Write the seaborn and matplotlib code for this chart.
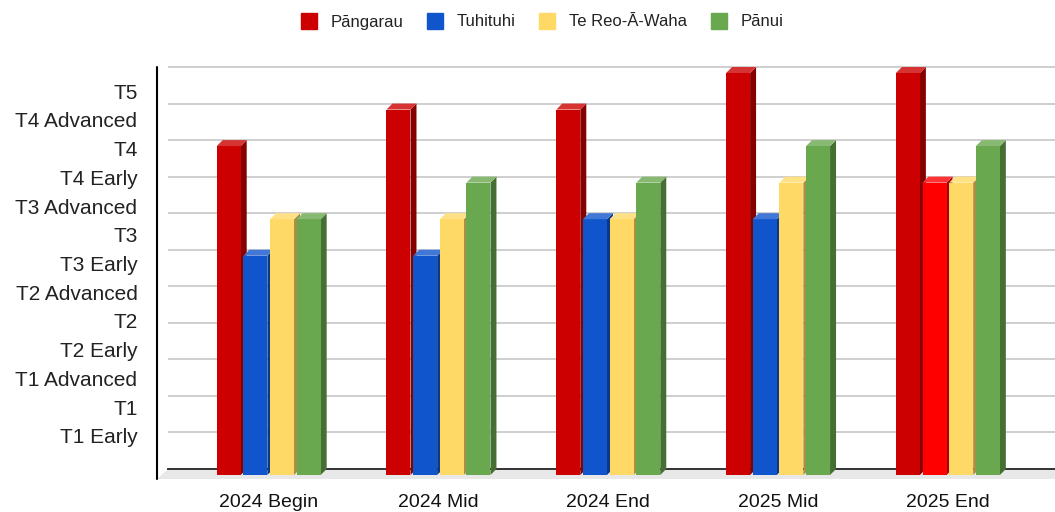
import numpy as np
import pandas as pd
import seaborn as sns
import matplotlib
matplotlib.use("Agg")
import matplotlib.pyplot as plt
from matplotlib.patches import Polygon
from matplotlib.lines import Line2D
from matplotlib.colors import to_rgb

# ---------------- data ----------------
categories = ["2024 Begin", "2024 Mid", "2024 End", "2025 Mid", "2025 End"]
series = ["Pāngarau", "Tuhituhi", "Te Reo-Ā-Waha", "Pānui"]
pangarau = [9, 10, 10, 11, 11]
tuhituhi = [6, 6, 7, 7, 8]
te_reo = [7, 7, 7, 8, 8]
panui = [7, 8, 8, 9, 9]
level_labels = ["T1 Early", "T1", "T1 Advanced", "T2 Early", "T2", "T2 Advanced",
                "T3 Early", "T3", "T3 Advanced", "T4 Early", "T4", "T4 Advanced", "T5"]
colors = ["#CC0000", "#1155CC", "#FFD966", "#6AA84F"]
highlight = ("2025 End", "Tuhituhi")
highlight_color = "#FF0000"

df = pd.DataFrame({
    "Period": categories * 4,
    "Series": np.repeat(series, len(categories)),
    "Level": pangarau + tuhituhi + te_reo + panui,
})

# ---------------- style ----------------
sns.set_style("white")
plt.rcParams["font.family"] = ["Liberation Sans", "DejaVu Sans"]

FW, FH = 1055, 512
fig = plt.figure(figsize=(FW / 100, FH / 100), dpi=100)
px_per_unit = 36.545
ymax = 11.05
ax_h = ymax * px_per_unit
ax_w = 887
ax = fig.add_axes([168 / FW, 43 / FH, ax_w / FW, ax_h / FH])

sns.barplot(data=df, x="Period", y="Level", hue="Series", hue_order=series,
            order=categories, palette=colors, width=0.628, gap=0.1,
            saturation=1, legend=False, ax=ax, errorbar=None,
            edgecolor="none", linewidth=0)

ax.set_xlim(-0.593, 4.631)
ax.set_ylim(0, ymax)

# highlight bar
hi_s = series.index(highlight[1])
hi_c = categories.index(highlight[0])
ax.containers[hi_s][hi_c].set_facecolor(highlight_color)

# 3D depth in data units (6px right, 6px up)
p0 = ax.transData.transform((0, 0))
dx, dy = ax.transData.inverted().transform(p0 + np.array([6.0, 6.0]))


def shade(c, f):
    r, g, b = to_rgb(c)
    return (r * f, g * f, b * f)


def tint(c, f):
    r, g, b = to_rgb(c)
    return (r + (1 - r) * f, g + (1 - g) * f, b + (1 - b) * f)


for i, cont in enumerate(ax.containers):
    for j, bar in enumerate(cont):
        order = j * 4 + i
        x, w, h = bar.get_x(), bar.get_width(), bar.get_height()
        fc = bar.get_facecolor()[:3]
        base_z = 3 + order * 0.1
        bar.set_y(-dy)
        bar.set_clip_on(False)
        bar.set_zorder(base_z + 0.05)
        side = Polygon([(x + w, -dy), (x + w + dx, 0), (x + w + dx, h), (x + w, h - dy)],
                       closed=True, facecolor=shade(fc, 0.66), edgecolor="none",
                       zorder=base_z, clip_on=False)
        top = Polygon([(x, h - dy), (x + w, h - dy), (x + w + dx, h), (x + dx, h)],
                      closed=True, facecolor=tint(fc, 0.2), edgecolor="none",
                      zorder=base_z + 0.06, clip_on=False)
        ax.add_patch(side)
        ax.add_patch(top)

# gridlines at integer levels
ax.set_yticks(np.arange(0, 12), minor=True)
ax.grid(which="minor", axis="y", color="#cccccc", linewidth=1.3)
ax.grid(which="major", visible=False)
ax.set_axisbelow(True)

# y labels (offset between gridlines as in reference)
ax.set_yticks(0.125 + np.arange(1, 14) * 11 / 14)
ax.set_yticklabels(level_labels)
ax.tick_params(axis="y", which="both", length=0, pad=22, labelsize=15, labelcolor="#222222")
ax.tick_params(axis="x", length=0, pad=18, labelsize=14, labelcolor="#111111")
ax.set_xlabel("")
ax.set_ylabel("")

for s in ["top", "right", "left"]:
    ax.spines[s].set_visible(False)
ax.spines["bottom"].set_color("#333333")
ax.spines["bottom"].set_linewidth(1.4)
ax.spines["bottom"].set_zorder(2.5)

# floor and front axis line
fx = -11 / ax_w
fy = -10 / ax_h
floor = Polygon([(fx, fy), (0, 0), (1, 0), (1, fy)], closed=True,
                transform=ax.transAxes, facecolor="#e8e8e8", edgecolor="none",
                zorder=1, clip_on=False)
ax.add_patch(floor)
ax.add_line(Line2D([fx, fx], [-10 / px_per_unit, 11], transform=ax.get_yaxis_transform(),
                   color="black", linewidth=1.5, clip_on=False, zorder=2))

# legend
handles = [Line2D([], [], marker="s", linestyle="none", markersize=12,
                  markerfacecolor=c, markeredgecolor=c) for c in colors]
fig.legend(handles, series, loc="center", bbox_to_anchor=(542 / FW, 1 - 22 / FH),
           ncol=4, frameon=False, fontsize=12, handletextpad=0.8,
           columnspacing=1.4, handlelength=1.0, labelcolor="#222222")

fig.savefig("out.png", dpi=100)
